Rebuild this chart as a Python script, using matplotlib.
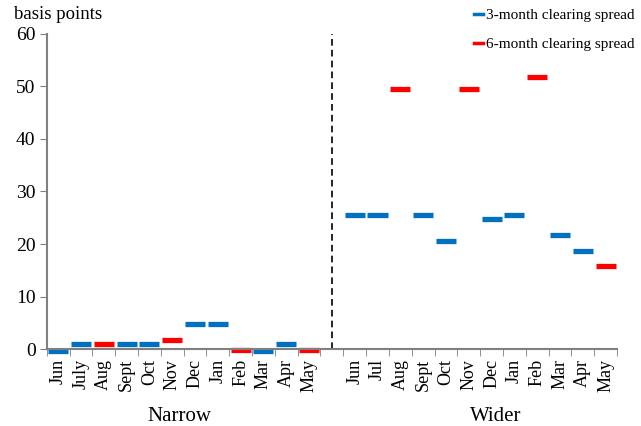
import numpy as np
import matplotlib
matplotlib.use("Agg")
import matplotlib.pyplot as plt
from matplotlib.lines import Line2D

plt.rcParams['font.family'] = ['Liberation Serif', 'DejaVu Serif']

nan = np.nan
months_narrow = ['Jun', 'July', 'Aug', 'Sept', 'Oct', 'Nov', 'Dec', 'Jan', 'Feb', 'Mar', 'Apr', 'May']
months_wider = ['Jun', 'Jul', 'Aug', 'Sept', 'Oct', 'Nov', 'Dec', 'Jan', 'Feb', 'Mar', 'Apr', 'May']
groups = ['Narrow', 'Wider']

narrow_3m = [-0.25, 1.0, nan, 1.0, 1.0, nan, 4.8, 4.8, nan, -0.25, 1.0, nan]
narrow_6m = [nan, nan, 1.0, nan, nan, 1.8, nan, nan, -0.2, nan, nan, -0.2]
wider_3m = [25.5, 25.5, nan, 25.5, 20.6, nan, 24.8, 25.5, nan, 21.8, 18.7, nan]
wider_6m = [nan, nan, 49.5, nan, nan, 49.5, nan, nan, 51.7, nan, nan, 15.9]

blue = '#0070C0'
red = '#FF0000'
grey = '#808080'

# one empty slot between the two groups for the divider
labels = months_narrow + [''] + months_wider
s3 = np.array(narrow_3m + [nan] + wider_3m)
s6 = np.array(narrow_6m + [nan] + wider_6m)
x = np.arange(len(labels))

fig = plt.figure(figsize=(6.41, 4.26), dpi=100)
ax = fig.add_axes([0.0729, 0.180, 0.8897, 0.741])

half = 0.44
m3 = ~np.isnan(s3)
m6 = ~np.isnan(s6)
ax.hlines(s3[m3], x[m3] - half, x[m3] + half, colors=blue, linewidth=3.8, clip_on=False)
ax.hlines(s6[m6], x[m6] - half, x[m6] + half, colors=red, linewidth=3.8, clip_on=False)

# divider between narrow and wider
ax.vlines(len(months_narrow), 0, 60, colors='black', linestyles=(0, (4, 2.5)), linewidth=1.2)

ax.set_xlim(-0.5, len(labels) - 0.5)
ax.set_ylim(0, 60)
ax.set_yticks(np.arange(0, 61, 10))
ax.tick_params(axis='y', labelsize=14, direction='out', length=5, color=grey, pad=3)

ax.set_xticks(x)
ax.set_xticklabels(labels, rotation=90, fontsize=13)
ax.set_xticks(np.arange(-0.5, len(labels), 1), minor=True)
ax.tick_params(axis='x', which='major', length=0, pad=7)
ax.tick_params(axis='x', which='minor', length=5, color=grey, direction='out')

for side in ['top', 'right']:
    ax.spines[side].set_visible(False)
for side in ['left', 'bottom']:
    ax.spines[side].set_color(grey)
    ax.spines[side].set_linewidth(1.5)

trans = ax.get_xaxis_transform()
ax.text(5.3, -0.212, groups[0], transform=trans, ha='center', va='center', fontsize=15)
ax.text(19.2, -0.212, groups[1], transform=trans, ha='center', va='center', fontsize=15)

fig.text(0.022, 0.965, 'basis points', fontsize=13.5, ha='left', va='center')

handles = [Line2D([0], [0], color=blue, linewidth=2.5),
           Line2D([0], [0], color=red, linewidth=2.5)]
fig.legend(handles, ['3-month clearing spread', '6-month clearing spread'],
           loc='upper right', bbox_to_anchor=(1.012, 1.012), frameon=False,
           fontsize=11, handlelength=0.6, handletextpad=0.2, labelspacing=1.0)

fig.savefig('out.png', dpi=100)
